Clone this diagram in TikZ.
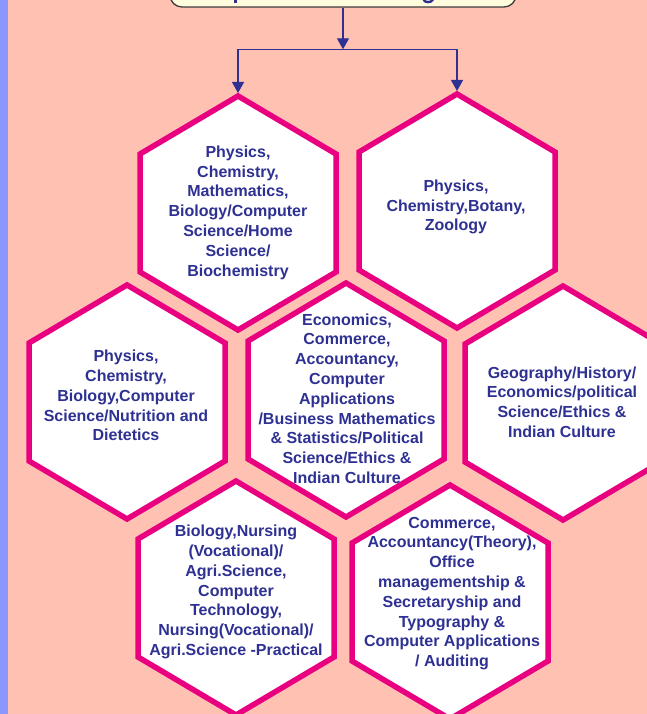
\documentclass[tikz,border=0pt]{standalone}
\usepackage{fontspec}
\setmainfont{Liberation Sans}
\usetikzlibrary{arrows.meta}
\definecolor{bgsalmon}{RGB}{255,193,178}
\definecolor{stripblue}{RGB}{140,150,255}
\definecolor{hexpink}{RGB}{232,0,128}
\definecolor{txtblue}{RGB}{46,49,146}
\definecolor{boxyellow}{RGB}{255,252,222}
\definecolor{boxedge}{RGB}{60,60,60}
\newcommand\drawhex[3]{%
  \draw[hexbox] (#2,#3-117) -- (#2+98,#3-59) -- (#2+98,#3+59) -- (#2,#3+117) -- (#2-98,#3+59) -- (#2-98,#3-59) -- cycle;
  \coordinate (#1-top) at (#2,#3-120);}
\begin{document}
\begin{tikzpicture}[x=1pt,y=-1pt,
  hexbox/.style={draw=hexpink,fill=white,line width=5.5pt,line join=miter},
  conn/.style={draw=txtblue,line width=1.3pt},
  arrowtip/.style={-{Triangle[length=11pt,width=12pt]}},
  lbl/.style={text=txtblue,font=\bfseries\fontsize{16}{19.8}\selectfont,align=center,inner sep=0pt},
  topbox/.style={draw=boxedge,fill=boxyellow,line width=1.3pt,rounded corners=12pt,minimum width=346pt,minimum height=50pt,inner sep=0pt}]
\useasboundingbox (0,0) rectangle (647,714);
\fill[bgsalmon] (0,0) rectangle (647,714);
\fill[stripblue] (0,0) rectangle (8,714);
\begin{scope}
\clip (0,0) rectangle (647,714);
\node[topbox] (topbox) at (343,-18) {};
\fill[txtblue] (233.8,-1) rectangle (236.6,3.2);
\draw[txtblue,line width=2.4pt] (423.5,-0.5) .. controls (424.5,3) and (431.5,3) .. (433,-0.5);
\coordinate (split) at (343,49.3);
\coordinate (lsplit) at (238,49.3);
\coordinate (rsplit) at (457,49.3);
\drawhex{h1}{238}{213}
\drawhex{h2}{457}{211}
\drawhex{h3}{127}{402}
\drawhex{h4}{346}{400}
\drawhex{h5}{563}{403}
\drawhex{h6}{236}{598}
\drawhex{h7}{450}{602}
\draw[conn,arrowtip] (topbox.south) -- (split);
\draw[conn] (lsplit) -- (rsplit);
\draw[conn,arrowtip] (lsplit) -- (h1-top);
\draw[conn,arrowtip] (rsplit) -- (h2-top);
\node[lbl] (t1) at (238,212.5) {Physics,\\Chemistry,\\Mathematics,\\Biology/Computer\\Science/Home\\Science/\\Biochemistry};
\node[lbl] (t2) at (456,207) {Physics,\\Chemistry,Botany,\\Zoology};
\node[lbl] (t3) at (126,395.5) {Physics,\\Chemistry,\\Biology,Computer\\Science/Nutrition and\\Dietetics};
\node[lbl] (t4) at (347,398.5) {Economics,\\Commerce,\\Accountancy,\\Computer\\Applications\\/Business Mathematics\\\& Statistics/Political\\Science/Ethics \&\\Indian Culture};
\node[lbl] (t5) at (562,402) {Geography/History/\\Economics/political\\Science/Ethics \&\\Indian Culture};
\node[lbl] (t6) at (236,592) {Biology,Nursing\\(Vocational)/\\Agri.Science,\\Computer\\Technology,\\Nursing(Vocational)/\\Agri.Science -Practical};
\node[lbl] (t7) at (452,593.5) {Commerce,\\Accountancy(Theory),\\Office\\managementship \&\\Secretaryship and\\Typography \&\\Computer Applications\\/ Auditing};
\end{scope}
\end{tikzpicture}
\end{document}
